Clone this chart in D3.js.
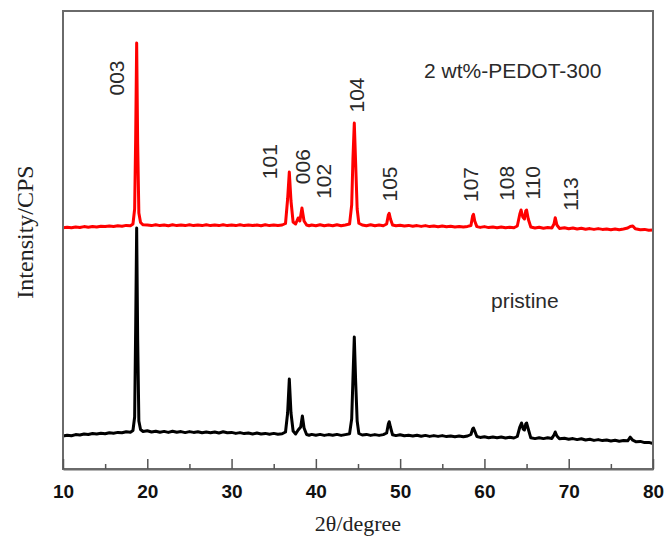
<!DOCTYPE html>
<html>
<head>
<meta charset="utf-8">
<script src="https://cdn.jsdelivr.net/npm/d3@7"></script>
<style>
  html, body { margin: 0; padding: 0; background: #fff; }
  svg { display: block; }
</style>
</head>
<body>
<svg id="chart" width="669" height="544"></svg>
<script>
// XRD patterns: [2θ (degree), intensity (CPS, arbitrary)]
const pristine = [
  [10.0,330],[10.5,338],[11.0,332],[11.5,344],[12.0,340],[12.5,350],[13.0,345],[13.5,355],[14.0,350],[14.5,358],
  [15.0,352],[15.5,362],[16.0,358],[16.5,366],[17.0,362],[17.5,372],[18.0,368],[18.3,385],[18.5,520],[18.62,1400],
  [18.74,2410],[18.86,1300],[19.0,480],[19.2,395],[19.5,375],[20.0,382],[20.5,370],[21.0,378],[21.5,368],[22.0,376],
  [22.5,366],[23.0,378],[23.5,368],[24.0,374],[24.5,364],[25.0,374],[25.5,366],[26.0,372],[26.5,362],[27.0,370],
  [27.5,362],[28.0,370],[28.5,360],[29.0,372],[29.5,362],[30.0,366],[30.5,356],[31.0,364],[31.5,354],[32.0,360],
  [32.5,350],[33.0,360],[33.5,350],[34.0,356],[34.5,348],[35.0,356],[35.5,348],[36.0,352],[36.4,370],[36.65,560],
  [36.85,900],[37.05,560],[37.3,380],[37.6,350],[37.9,390],[38.2,420],[38.4,530],[38.6,410],[38.9,345],[39.2,338],
  [39.5,346],[40.0,338],[40.5,346],[41.0,336],[41.5,344],[42.0,338],[42.5,346],[43.0,336],[43.5,344],[44.0,352],
  [44.25,500],[44.4,900],[44.56,1320],[44.72,880],[44.9,480],[45.1,355],[45.5,340],[46.0,346],[46.5,336],[47.0,344],
  [47.5,336],[48.0,344],[48.4,360],[48.6,450],[48.7,473],[48.85,420],[49.1,342],[49.5,334],[50.0,342],[50.5,332],
  [51.0,338],[51.5,330],[52.0,338],[52.5,328],[53.0,336],[53.5,326],[54.0,334],[54.5,326],[55.0,334],[55.5,324],
  [56.0,330],[56.5,322],[57.0,330],[57.5,322],[58.0,330],[58.4,345],[58.6,400],[58.7,410],[58.85,380],[59.1,325],
  [59.5,316],[60.0,322],[60.5,312],[61.0,320],[61.5,312],[62.0,320],[62.5,310],[63.0,318],[63.5,310],[63.9,325],
  [64.2,420],[64.4,460],[64.6,400],[64.75,390],[64.9,450],[65.0,460],[65.2,400],[65.5,312],[66.0,304],[66.5,312],
  [67.0,304],[67.5,312],[68.0,306],[68.25,340],[68.4,370],[68.6,330],[68.9,302],[69.5,308],[70.0,298],[70.5,304],
  [71.0,294],[71.5,302],[72.0,290],[72.5,298],[73.0,286],[73.5,294],[74.0,284],[74.5,290],[75.0,280],[75.5,288],
  [76.0,278],[76.5,284],[77.0,282],[77.3,318],[77.6,288],[78.0,272],[78.5,276],[79.0,264],[79.5,266],[80.0,255]
];

const pedot300 = [
  [10.0,412],[10.5,418],[11.0,412],[11.5,420],[12.0,415],[12.5,424],[13.0,418],[13.5,425],[14.0,420],[14.5,428],
  [15.0,424],[15.5,430],[16.0,426],[16.5,432],[17.0,428],[17.5,436],[18.0,432],[18.3,450],[18.5,600],[18.62,1300],
  [18.74,2260],[18.86,1250],[19.0,560],[19.2,465],[19.5,442],[20.0,440],[20.5,434],[21.0,442],[21.5,434],[22.0,440],
  [22.5,432],[23.0,442],[23.5,434],[24.0,440],[24.5,434],[25.0,442],[25.5,434],[26.0,440],[26.5,434],[27.0,442],
  [27.5,434],[28.0,440],[28.5,434],[29.0,442],[29.5,434],[30.0,440],[30.5,434],[31.0,442],[31.5,434],[32.0,440],
  [32.5,434],[33.0,440],[33.5,432],[34.0,442],[34.5,434],[35.0,440],[35.5,434],[36.0,440],[36.4,455],[36.65,700],
  [36.85,970],[37.05,680],[37.3,470],[37.6,450],[37.9,510],[38.1,480],[38.35,610],[38.6,480],[38.9,440],[39.2,432],
  [39.5,440],[40.0,432],[40.5,442],[41.0,432],[41.5,440],[42.0,432],[42.5,442],[43.0,432],[43.5,440],[44.0,450],
  [44.25,640],[44.4,1100],[44.56,1460],[44.72,1060],[44.9,600],[45.1,458],[45.5,440],[46.0,432],[46.5,442],[47.0,432],
  [47.5,440],[48.0,432],[48.4,450],[48.6,540],[48.7,557],[48.85,500],[49.1,440],[49.5,432],[50.0,438],[50.5,430],
  [51.0,436],[51.5,428],[52.0,434],[52.5,426],[53.0,434],[53.5,424],[54.0,430],[54.5,422],[55.0,430],[55.5,422],
  [56.0,428],[56.5,420],[57.0,426],[57.5,420],[58.0,426],[58.4,435],[58.6,530],[58.7,547],[58.85,480],[59.1,424],
  [59.5,416],[60.0,424],[60.5,414],[61.0,420],[61.5,412],[62.0,420],[62.5,412],[63.0,418],[63.5,412],[63.9,430],
  [64.2,550],[64.35,590],[64.55,520],[64.75,500],[64.9,580],[65.0,590],[65.2,500],[65.5,420],[66.0,410],[66.5,418],
  [67.0,408],[67.5,414],[68.0,410],[68.25,450],[68.4,513],[68.6,440],[68.9,406],[69.5,412],[70.0,402],[70.5,410],
  [71.0,400],[71.5,408],[72.0,398],[72.5,404],[73.0,396],[73.5,404],[74.0,396],[74.5,400],[75.0,392],[75.5,400],
  [76.0,392],[76.5,400],[77.0,410],[77.3,425],[77.6,430],[77.9,402],[78.5,392],[79.0,396],[79.5,388],[80.0,390]
];

// vertical shift applied to the PEDOT-coated pattern so the two traces are stacked
const pedotOffset = 2000;

// Miller indices and where each label sits (2θ, intensity of its centre)
const hklLabels = ["003","101","006","102","104","105","107","108","110","113"];
const hklAt2Theta = [16.29,34.44,38.41,40.88,44.76,48.68,58.35,62.64,65.70,70.15];
const hklAtIntensity = [3910,3073,3023,2877,3740,2850,2845,2857,2863,2750];

const sampleNames = ["2 wt%-PEDOT-300","pristine"];
const sampleAt2Theta = [52.83,60.78];
const sampleAtIntensity = [3910,1610];

const majorTicks = [10,20,30,40,50,60,70,80];
const minorTicks = [15,25,35,45,55,65,75];

const svg = d3.select("#chart");
const plot = { left: 63, right: 653, top: 11, bottom: 469 };

const x = d3.scaleLinear().domain([10, 80]).range([plot.left, plot.right]);
const y = d3.scaleLinear().domain([0, 4580]).range([plot.bottom, plot.top]);

const line = d3.line()
  .x(d => x(d[0]))
  .y(d => y(d[1]));

// traces
svg.append("path")
  .datum(pristine)
  .attr("d", line)
  .attr("fill", "none")
  .attr("stroke", "#000")
  .attr("stroke-width", 3)
  .attr("stroke-linejoin", "round");

svg.append("path")
  .datum(pedot300.map(d => [d[0], d[1] + pedotOffset]))
  .attr("d", line)
  .attr("fill", "none")
  .attr("stroke", "#ff0000")
  .attr("stroke-width", 3)
  .attr("stroke-linejoin", "round");

// frame
svg.append("rect")
  .attr("x", plot.left).attr("y", plot.top)
  .attr("width", plot.right - plot.left)
  .attr("height", plot.bottom - plot.top)
  .attr("fill", "none")
  .attr("stroke", "#6a6a6a")
  .attr("stroke-width", 2);

// bottom axis: inward major ticks with labels
const xAxis = svg.append("g")
  .attr("transform", `translate(0,${plot.bottom})`)
  .call(d3.axisBottom(x).tickValues(majorTicks).tickSizeInner(-10).tickSizeOuter(0).tickPadding(16).tickFormat(d3.format("d")));
xAxis.select(".domain").attr("stroke", "#6a6a6a").attr("stroke-width", 2);
xAxis.selectAll(".tick line").attr("stroke", "#555").attr("stroke-width", 1.5);
xAxis.selectAll(".tick text")
  .attr("fill", "#111")
  .style("font-family", "Arial, 'Liberation Sans', sans-serif")
  .style("font-size", "19px")
  .style("font-weight", "bold");

// minor ticks
svg.append("g")
  .attr("transform", `translate(0,${plot.bottom})`)
  .call(d3.axisBottom(x).tickValues(minorTicks).tickSizeInner(-5).tickSizeOuter(0).tickFormat(""))
  .call(g => g.select(".domain").remove())
  .selectAll(".tick line").attr("stroke", "#555").attr("stroke-width", 1.5);

// axis titles
svg.append("text")
  .attr("x", (plot.left + plot.right) / 2)
  .attr("y", 531)
  .attr("text-anchor", "middle")
  .style("font-family", "'Times New Roman', 'Liberation Serif', serif")
  .style("font-size", "22px")
  .attr("fill", "#222")
  .text("2θ/degree");

svg.append("text")
  .attr("transform", "translate(33,232) rotate(-90)")
  .attr("text-anchor", "middle")
  .style("font-family", "'Times New Roman', 'Liberation Serif', serif")
  .style("font-size", "24px")
  .attr("fill", "#222")
  .text("Intensity/CPS");

// Miller index labels
svg.append("g").selectAll("text")
  .data(hklLabels)
  .join("text")
  .attr("transform", (d, i) => `translate(${x(hklAt2Theta[i])},${y(hklAtIntensity[i])}) rotate(-90)`)
  .attr("text-anchor", "middle")
  .attr("dy", "0.36em")
  .style("font-family", "Arial, 'Liberation Sans', sans-serif")
  .style("font-size", "21px")
  .attr("fill", "#2a2a2a")
  .text(d => d);

// sample names
svg.append("g").selectAll("text")
  .data(sampleNames)
  .join("text")
  .attr("x", (d, i) => x(sampleAt2Theta[i]))
  .attr("y", (d, i) => y(sampleAtIntensity[i]))
  .style("font-family", "Arial, 'Liberation Sans', sans-serif")
  .style("font-size", "21px")
  .attr("fill", "#2a2a2a")
  .text(d => d);
</script>
</body>
</html>
